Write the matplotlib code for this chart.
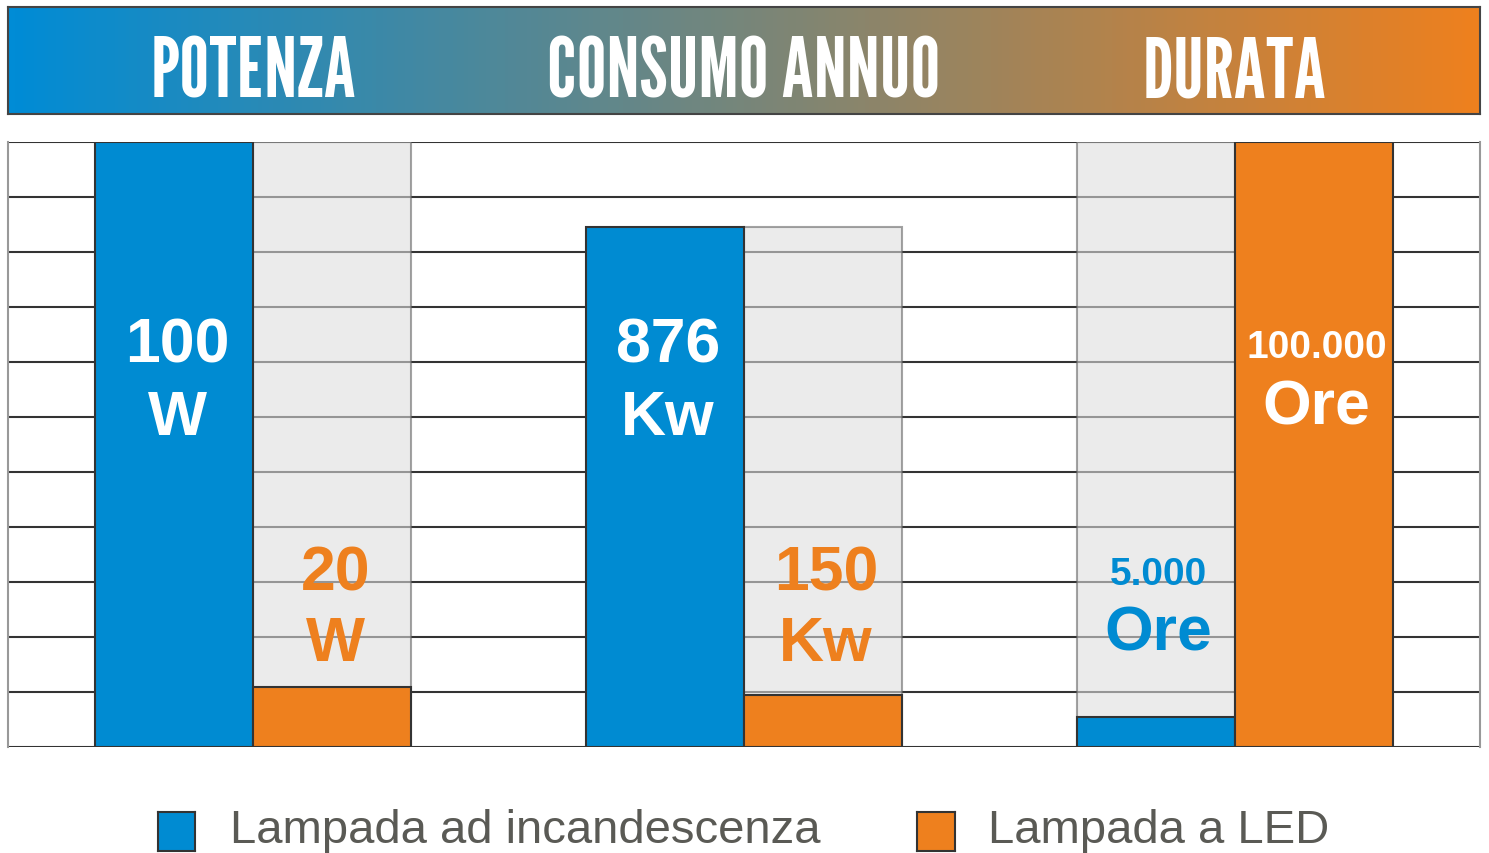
import numpy as np
import matplotlib
matplotlib.use('Agg')
import matplotlib.pyplot as plt
from matplotlib import font_manager
from matplotlib.colors import LinearSegmentedColormap

# categories and bar heights (11 grid rows = full height)
categories = ['POTENZA', 'CONSUMO ANNUO', 'DURATA']
incandescenza = [11.0, 9.45, 0.55]
led = [1.1, 0.95, 11.0]

# labels shown in the bars
inc_numbers = ['100', '876', '5.000']
inc_units = ['W', 'Kw', 'Ore']
led_numbers = ['20', '150', '100.000']
led_units = ['W', 'Kw', 'Ore']
legend_labels = ['Lampada ad incandescenza', 'Lampada a LED']

blue = '#008BD2'
orange = '#EE801E'
edge = '#333333'

#pick a condensed font for the banner
header_font, header_size = 'DejaVu Sans', 40
for name, size in [('League Gothic', 60), ('Pathway Gothic One', 56), ('Oswald', 44), ('Roboto Condensed', 48)]:
    try:
        font_manager.findfont(font_manager.FontProperties(family=name), fallback_to_default=False)
        header_font, header_size = name, size
        break
    except Exception:
        pass

fig = plt.figure(figsize=(14.89, 8.54), dpi=100)
W, H = 1489, 854

def fpos(x0, y0, x1, y1):
    return [x0 / W, 1 - y1 / H, (x1 - x0) / W, (y1 - y0) / H]

#header banner with gradient
hax = fig.add_axes(fpos(8, 8, 1480, 115))
cmap = LinearSegmentedColormap.from_list('hdr', [(0, 140/255, 214/255), (238/255, 128/255, 30/255)])
hax.imshow(np.linspace(0, 1, 400)[None, :], aspect='auto', cmap=cmap, extent=[-0.5, 2.5, 0, 1])
hax.set_xlim(-0.5, 2.5)
hax.set_ylim(0, 1)
hax.set_xticks([])
hax.set_yticks([])
for s in hax.spines.values():
    s.set_color('#444444')
    s.set_linewidth(1.5)
# baseline of banner text at y=97px
for i, c in enumerate(categories):
    hax.text(i, (115 - 97) / 107, c, ha='center', va='baseline', color='white',
             fontsize=header_size, family=[header_font, 'DejaVu Sans'])

#main chart
ax = fig.add_axes(fpos(8, 143, 1480, 748))
ax.set_xlim(-0.5, 2.5)
ax.set_ylim(0, 11)
ax.set_xticks([])
ax.set_yticks([])
for s in ['top', 'bottom']:
    ax.spines[s].set_visible(False)
for s in ['left', 'right']:
    ax.spines[s].set_color('#999999')
    ax.spines[s].set_linewidth(1.5)
for y in range(12):
    ax.axhline(y, color=edge, lw=1.5, zorder=1)

x = np.arange(len(categories))
bw = 0.322
inc_x = x - bw / 2
led_x = x + bw / 2

# grey background behind the shorter bar
for i in range(len(categories)):
    top = max(incandescenza[i], led[i])
    bx = led_x[i] if led[i] < incandescenza[i] else inc_x[i]
    ax.bar(bx, top, width=bw, color=(221/255, 221/255, 221/255, 0.58),
           edgecolor=(0.4, 0.4, 0.4, 0.6), linewidth=1.5, zorder=2)

ax.bar(inc_x, incandescenza, width=bw, color=blue, edgecolor=edge, linewidth=1.5, zorder=3)
ax.bar(led_x, led, width=bw, color=orange, edgecolor=edge, linewidth=1.5, zorder=3)

lab = dict(ha='center', va='baseline', fontweight='bold', family='Liberation Sans', zorder=4)
# tall bars: white text near the top, short bars: coloured text lower down
# baselines in grid units
for i in range(len(categories)):
    for bx, val, num, unit, col in [(inc_x[i], incandescenza[i], inc_numbers[i], inc_units[i], blue),
                                    (led_x[i], led[i], led_numbers[i], led_units[i], orange)]:
        small = len(num) > 3
        nsize = 28 if small else 45
        if val > 5:
            ny, uy = (7.09, 5.89) if small else (7.0, 5.69)
            tc = 'white'
        else:
            ny, uy = (2.96, 1.78) if small else (2.855, 1.58)
            tc = col
        ax.text(bx + 0.006, ny, num, color=tc, fontsize=nsize, **lab)
        ax.text(bx + 0.006, uy, unit, color=tc, fontsize=45, **lab)

#legend at the bottom
for (x0, x1, tx), col, txt in zip([(158, 195, 230), (917, 955, 988)], [blue, orange], legend_labels):
    sq = fig.add_axes(fpos(x0, 813, x1, 852))
    sq.set_facecolor(col)
    sq.set_xticks([])
    sq.set_yticks([])
    for s in sq.spines.values():
        s.set_color(edge)
        s.set_linewidth(1.5)
    fig.text(tx / W, 1 - 843 / H, txt, ha='left', va='baseline', color='#5A5A55',
             fontsize=34, family='Liberation Sans')

fig.savefig('out.png', dpi=100)
